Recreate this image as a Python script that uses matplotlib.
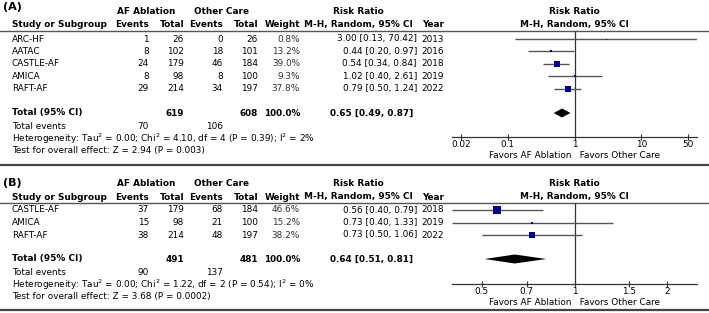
import matplotlib
matplotlib.use("Agg")
import matplotlib.pyplot as plt
import matplotlib.transforms as mtransforms

# ---- data: panel A ----
studies_a = ["ARC-HF", "AATAC", "CASTLE-AF", "AMICA", "RAFT-AF"]
abl_events_a = [1, 8, 24, 8, 29]
abl_total_a = [26, 102, 179, 98, 214]
oc_events_a = [0, 18, 46, 8, 34]
oc_total_a = [26, 101, 184, 100, 197]
weight_a = [0.8, 13.2, 39.0, 9.3, 37.8]
rr_a = [3.00, 0.44, 0.54, 1.02, 0.79]
lo_a = [0.13, 0.20, 0.34, 0.40, 0.50]
hi_a = [70.42, 0.97, 0.84, 2.61, 1.24]
year_a = [2013, 2016, 2018, 2019, 2022]
total_a = [619, 608]
pooled_a = [0.65, 0.49, 0.87]
events_a = [70, 106]
het_a = "Heterogeneity: Tau$^2$ = 0.00; Chi$^2$ = 4.10, df = 4 (P = 0.39); I$^2$ = 2%"
test_a = "Test for overall effect: Z = 2.94 (P = 0.003)"
ticks_a = [0.02, 0.1, 1, 10, 50]
tick_labels_a = ["0.02", "0.1", "1", "10", "50"]

# ---- data: panel B ----
studies_b = ["CASTLE-AF", "AMICA", "RAFT-AF"]
abl_events_b = [37, 15, 38]
abl_total_b = [179, 98, 214]
oc_events_b = [68, 21, 48]
oc_total_b = [184, 100, 197]
weight_b = [46.6, 15.2, 38.2]
rr_b = [0.56, 0.73, 0.73]
lo_b = [0.40, 0.40, 0.50]
hi_b = [0.79, 1.33, 1.06]
year_b = [2018, 2019, 2022]
total_b = [491, 481]
pooled_b = [0.64, 0.51, 0.81]
events_b = [90, 137]
het_b = "Heterogeneity: Tau$^2$ = 0.00; Chi$^2$ = 1.22, df = 2 (P = 0.54); I$^2$ = 0%"
test_b = "Test for overall effect: Z = 3.68 (P = 0.0002)"
ticks_b = [0.5, 0.7, 1, 1.5, 2]
tick_labels_b = ["0.5", "0.7", "1", "1.5", "2"]

W, H = 709, 313
FS = 6.4
plt.rcParams['font.family'] = ['DejaVu Sans']
plt.rcParams['mathtext.fontset'] = 'dejavusans'

fig = plt.figure(figsize=(W / 100, H / 100), dpi=100)
tx = fig.add_axes([0, 0, 1, 1])
tx.set_xlim(0, W)
tx.set_ylim(H, 0)
tx.axis('off')


def t(x, y, s, ha='left', bold=False, color='black', size=FS):
    tx.text(x, y, s, ha=ha, va='center', fontsize=size,
            fontweight='bold' if bold else 'normal', color=color)


def panel(label, y_lab, y_h1, y_h2, y_line, y_rows, dy, y_tot, y_axis,
          studies, ae, at, oe, ot, wt, rr, lo, hi, yr, tot, pooled, ev,
          het, test, xlim, ticks, tick_labels):
    t(3, y_lab, label, bold=True, size=8)
    # headers
    t(146, y_h1, "AF Ablation", ha='center', bold=True)
    t(221, y_h1, "Other Care", ha='center', bold=True)
    t(358, y_h1, "Risk Ratio", ha='center', bold=True)
    t(574, y_h1, "Risk Ratio", ha='center', bold=True)
    t(12, y_h2, "Study or Subgroup", bold=True)
    t(149, y_h2, "Events", ha='right', bold=True)
    t(184, y_h2, "Total", ha='right', bold=True)
    t(223, y_h2, "Events", ha='right', bold=True)
    t(258, y_h2, "Total", ha='right', bold=True)
    t(300, y_h2, "Weight", ha='right', bold=True)
    t(358, y_h2, "M-H, Random, 95% CI", ha='center', bold=True)
    t(444, y_h2, "Year", ha='right', bold=True)
    t(574, y_h2, "M-H, Random, 95% CI", ha='center', bold=True)
    tx.axhline(y_line, color='#555555', lw=1.0)

    ys = [y_rows + i * dy for i in range(len(studies))]
    for i, y in enumerate(ys):
        t(12, y, studies[i])
        t(149, y, str(ae[i]), ha='right')
        t(184, y, str(at[i]), ha='right')
        t(223, y, str(oe[i]), ha='right')
        t(258, y, str(ot[i]), ha='right')
        t(300, y, f"{wt[i]:.1f}%", ha='right', color='#333333')
        t(417, y, f"{rr[i]:.2f} [{lo[i]:.2f}, {hi[i]:.2f}]", ha='right')
        t(444, y, str(yr[i]), ha='right')

    t(12, y_tot, "Total (95% CI)", bold=True)
    t(184, y_tot, str(tot[0]), ha='right', bold=True)
    t(258, y_tot, str(tot[1]), ha='right', bold=True)
    t(300, y_tot, "100.0%", ha='right', bold=True)
    t(413, y_tot, f"{pooled[0]:.2f} [{pooled[1]:.2f}, {pooled[2]:.2f}]",
      ha='right', bold=True)
    t(12, y_tot + 13.5, "Total events")
    t(149, y_tot + 13.5, str(ev[0]), ha='right')
    t(223, y_tot + 13.5, str(ev[1]), ha='right')
    t(12, y_tot + 25.5, het)
    t(12, y_tot + 37.5, test)

    # forest plot axes (pixel y-units)
    x0, x1 = 452, 697
    ax = fig.add_axes([x0 / W, 1 - y_axis / H, (x1 - x0) / W, (y_axis - y_line) / H])
    ax.set_xscale('log')
    ax.set_xlim(*xlim)
    ax.set_ylim(y_axis, y_line)
    ax.patch.set_alpha(0)
    for s in ['top', 'left', 'right']:
        ax.spines[s].set_visible(False)
    ax.spines['bottom'].set_color('#333333')
    ax.spines['bottom'].set_linewidth(0.9)
    ax.set_yticks([])
    ax.set_xticks(ticks)
    ax.set_xticklabels(tick_labels)
    ax.minorticks_off()
    ax.tick_params(axis='x', direction='inout', length=5, width=0.8,
                   color='#333333', labelsize=FS, pad=0)
    ax.axvline(1, color='#333333', lw=0.9)
    for i, y in enumerate(ys):
        ax.plot([lo[i], hi[i]], [y, y], color='#555555', lw=1.0,
                solid_capstyle='butt', clip_on=True)
        side = (1 + 0.13 * wt[i]) * 0.72
        ax.plot([rr[i]], [y], marker='s', ms=side, color='#000080', mec='#000080',
                mew=0, linestyle='none')
    ax.fill([pooled[1], pooled[0], pooled[2], pooled[0]],
            [y_tot, y_tot - 4.5, y_tot, y_tot + 4.5], color='black', lw=0)
    tr = mtransforms.blended_transform_factory(ax.transData, tx.transData)
    tx.text(1, y_axis + 18.5, "Favors AF Ablation ", transform=tr, ha='right',
            va='center', fontsize=FS)
    tx.text(1, y_axis + 18.5, "  Favors Other Care", transform=tr, ha='left',
            va='center', fontsize=FS)


panel("(A)", 7, 12, 24.5, 31, 39, 12.4, 113, 137,
      studies_a, abl_events_a, abl_total_a, oc_events_a, oc_total_a, weight_a,
      rr_a, lo_a, hi_a, year_a, total_a, pooled_a, events_a, het_a, test_a,
      (1 / 68, 68), ticks_a, tick_labels_a)

panel("(B)", 183, 184, 197, 203, 210, 12.5, 259, 284,
      studies_b, abl_events_b, abl_total_b, oc_events_b, oc_total_b, weight_b,
      rr_b, lo_b, hi_b, year_b, total_b, pooled_b, events_b, het_b, test_b,
      (0.4, 2.5), ticks_b, tick_labels_b)

tx.axhline(165, color='#444444', lw=1.6)
tx.axhline(310, color='#444444', lw=1.6)

fig.savefig("out.png", dpi=100)
